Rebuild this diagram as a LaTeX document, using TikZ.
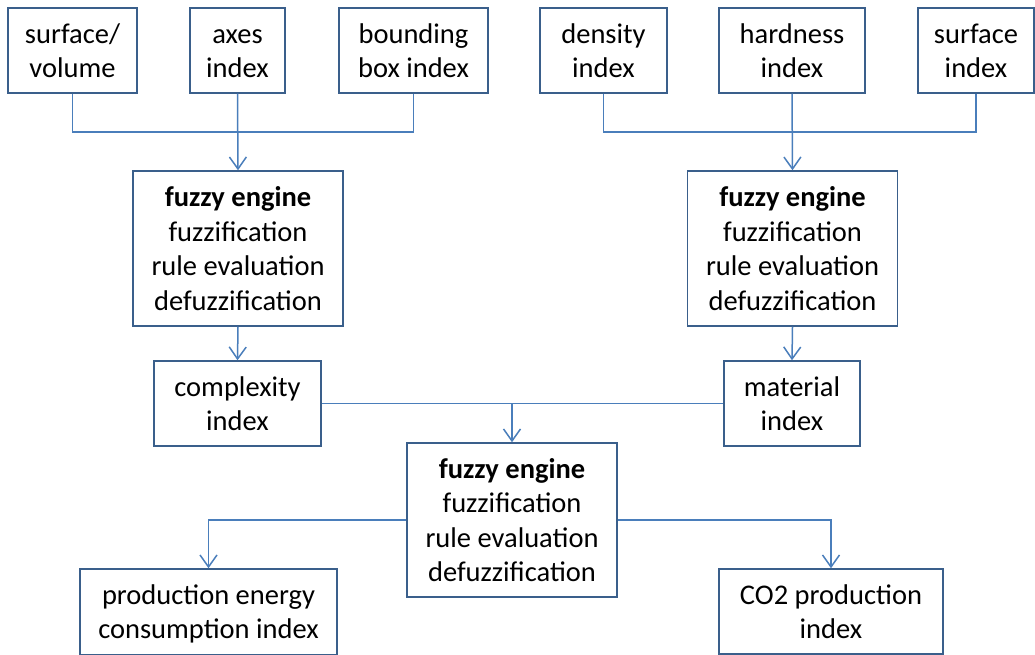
\documentclass[tikz,border=0pt]{standalone}
\usepackage{fontspec}
\setmainfont{Carlito}
\usetikzlibrary{arrows.meta}
\definecolor{boxline}{HTML}{3A5F8B}
\definecolor{linkline}{HTML}{4A7EBB}
\newcommand{\bxstrut}{\rule[-4pt]{0pt}{28pt}}
\newcommand{\bxtext}[1]{\bxstrut#1\bxstrut}
\tikzset{
  box/.style={draw=boxline, line width=1.5pt, fill=white, align=center, inner sep=0pt,
    minimum height=85pt, font=\fontsize{28.5}{34.5}\selectfont},
  engine/.style={box, minimum width=210pt, minimum height=155pt},
  link/.style={draw=linkline, line width=1.5pt},
  linkarrow/.style={link, -{Straight Barb[length=12pt,width=17pt,line width=1.5pt]}}
}
\begin{document}
\begin{tikzpicture}[x=1pt, y=-1pt]
	\useasboundingbox (0,0) rectangle (1035,655);
	% inputs of the two upper engines
	\node[box, minimum width=129pt] (sv) at (72.5,50.5) {\bxtext{surface/\\volume}};
	\node[box, minimum width=95pt] (axes) at (237.5,50.5) {\bxtext{axes\\index}};
	\node[box, minimum width=149pt] (bbox) at (413.5,50.5) {\bxtext{bounding\\box index}};
	\node[box, minimum width=127pt] (dens) at (603.5,50.5) {\bxtext{density\\index}};
	\node[box, minimum width=146pt] (hard) at (792,50.5) {\bxtext{hardness\\index}};
	\node[box, minimum width=116pt] (surf) at (976,50.5) {\bxtext{surface\\index}};
	% engines
	\node[engine] (fe1) at (238,248.5) {\bxtext{\textbf{fuzzy engine}\\fuzzification\\rule evaluation\\defuzzification}};
	\node[engine] (fe2) at (792.5,248.5) {\bxtext{\textbf{fuzzy engine}\\fuzzification\\rule evaluation\\defuzzification}};
	\node[box, minimum width=167pt] (cplx) at (237.5,403.5) {\bxtext{complexity\\index}};
	\node[box, minimum width=136pt] (mat) at (792,403.5) {\bxtext{material\\index}};
	\node[engine, minimum height=154pt] (fe3) at (512,520) {\bxtext{\textbf{fuzzy engine}\\fuzzification\\rule evaluation\\defuzzification}};
	% outputs
	\node[box, minimum width=257pt, minimum height=86pt] (prod) at (208.5,612) {\bxtext{production energy\\consumption index}};
	\node[box, minimum width=224pt] (co2) at (831,611.5) {\bxtext{CO2 production\\index}};
	% connectors
	\coordinate (busl) at (238,132);
	\coordinate (busr) at (792,132);
	\draw[link] (sv.south) |- (busl) -| (bbox.south);
	\draw[linkarrow] (axes.south) -- (fe1.north);
	\draw[link] (dens.south) |- (busr) -| (surf.south);
	\draw[linkarrow] (hard.south) -- (fe2.north);
	\draw[linkarrow] (fe1.south) -- (cplx.north);
	\draw[linkarrow] (fe2.south) -- (mat.north);
	\draw[link] (cplx.east) -- (mat.west);
	\draw[linkarrow] (fe3.north |- cplx.east) -- (fe3.north);
	\draw[linkarrow] (fe3.west) -| (prod.north);
	\draw[linkarrow] (fe3.east) -| (co2.north);
\end{tikzpicture}
\end{document}
